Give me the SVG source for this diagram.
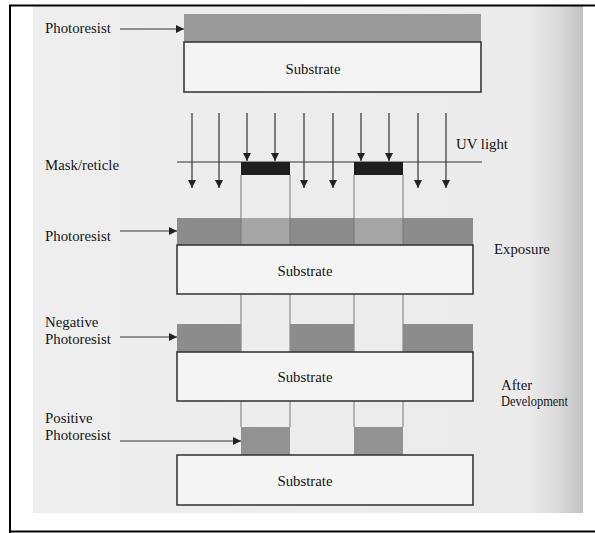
<svg xmlns="http://www.w3.org/2000/svg" width="595" height="533" viewBox="0 0 595 533">
<defs>
<linearGradient id="page" x1="0" y1="0" x2="1" y2="0">
<stop offset="0" stop-color="#eeeeee"/>
<stop offset="0.9" stop-color="#ebebeb"/>
<stop offset="0.95" stop-color="#dcdcdc"/>
<stop offset="1" stop-color="#c2c2c2"/>
</linearGradient>
<marker id="ah" viewBox="0 0 10 10" refX="10" refY="5" markerWidth="8" markerHeight="8" markerUnits="userSpaceOnUse" orient="auto">
<path d="M0,0 L10,5 L0,10 Z" fill="#222"/>
</marker>
<style>
.t{font-family:"Liberation Serif","Times New Roman",serif;font-size:14.8px;fill:#151515}
.ln{stroke:#333;stroke-width:1.2;fill:none}
.ar{stroke:#333;stroke-width:1.2;fill:none;marker-end:url(#ah)}
.sub{fill:#f4f4f4;stroke:#3a3a3a;stroke-width:1.6}
.dk{fill:#8c8c8c}
.lt{fill:#a5a5a5}
.gd{stroke:#777;stroke-width:1;fill:none}
.mask{fill:#1e1e1e}
</style>
</defs>
<rect x="0" y="0" width="595" height="533" fill="#ffffff"/>
<rect x="33" y="6" width="550" height="507" fill="url(#page)"/>
<g id="frame">
<line x1="9" y1="5.5" x2="595" y2="5.5" stroke="#000" stroke-width="2"/>
<line x1="10" y1="5" x2="10" y2="533" stroke="#000" stroke-width="2"/>
<line x1="9" y1="531.5" x2="595" y2="531.5" stroke="#000" stroke-width="2"/>
</g>

<g id="guides">
<line class="gd" x1="241" y1="175" x2="241" y2="427"/>
<line class="gd" x1="290" y1="175" x2="290" y2="427"/>
<line class="gd" x1="354" y1="175" x2="354" y2="427"/>
<line class="gd" x1="403" y1="175" x2="403" y2="427"/>
</g>

<g id="step1">
<rect x="184" y="14" width="297" height="28" fill="#9a9a9a"/>
<rect class="sub" x="184" y="42" width="297" height="50"/>
<text class="t" x="313" y="74" text-anchor="middle">Substrate</text>
</g>

<g id="mask">
<line class="ln" x1="177" y1="162" x2="482" y2="162"/>
<rect class="mask" x="241" y="162" width="49" height="13"/>
<rect class="mask" x="354" y="162" width="49" height="13"/>
</g>

<g id="exposure">
<rect class="dk" x="177" y="218" width="64" height="27"/>
<rect class="lt" x="241" y="218" width="49" height="27"/>
<rect class="dk" x="290" y="218" width="64" height="27"/>
<rect class="lt" x="354" y="218" width="49" height="27"/>
<rect class="dk" x="403" y="218" width="70" height="27"/>
<line class="gd" x1="241" y1="218" x2="241" y2="245"/>
<line class="gd" x1="290" y1="218" x2="290" y2="245"/>
<line class="gd" x1="354" y1="218" x2="354" y2="245"/>
<line class="gd" x1="403" y1="218" x2="403" y2="245"/>
<rect class="sub" x="177" y="245" width="296" height="49"/>
<text class="t" x="305" y="276" text-anchor="middle">Substrate</text>
</g>

<g id="negative">
<rect class="dk" x="177" y="324" width="64" height="28"/>
<rect class="dk" x="290" y="324" width="64" height="28"/>
<rect class="dk" x="403" y="324" width="70" height="28"/>
<rect class="sub" x="177" y="352" width="296" height="49"/>
<text class="t" x="305" y="382" text-anchor="middle">Substrate</text>
</g>

<g id="positive">
<rect fill="#929292" x="241" y="427" width="49" height="28"/>
<rect fill="#929292" x="354" y="427" width="49" height="28"/>
<rect class="sub" x="177" y="455" width="296" height="50"/>
<text class="t" x="305" y="486" text-anchor="middle">Substrate</text>
</g>

<g id="labels">
<text class="t" x="45" y="33">Photoresist</text>
<text class="t" x="45" y="170">Mask/reticle</text>
<text class="t" x="456" y="149">UV light</text>
<text class="t" x="45" y="241">Photoresist</text>
<text class="t" x="494" y="254">Exposure</text>
<text class="t" x="45" y="327">Negative</text>
<text class="t" x="45" y="344">Photoresist</text>
<text class="t" x="45" y="423">Positive</text>
<text class="t" x="45" y="440">Photoresist</text>
<text class="t" x="501" y="390">After</text>
<text class="t" x="501" y="406" textLength="67" lengthAdjust="spacingAndGlyphs">Development</text>
</g>

<g id="connectors">
<line class="ar" x1="120" y1="29" x2="184" y2="29"/>
<line class="ar" x1="120" y1="231" x2="177" y2="231"/>
<line class="ar" x1="120" y1="337" x2="177" y2="337"/>
<line class="ar" x1="120" y1="441" x2="241" y2="441"/>
<line class="ar" x1="192" y1="113" x2="192" y2="188"/>
<line class="ar" x1="219" y1="113" x2="219" y2="188"/>
<line class="ar" x1="247" y1="113" x2="247" y2="161"/>
<line class="ar" x1="275" y1="113" x2="275" y2="161"/>
<line class="ar" x1="304" y1="113" x2="304" y2="188"/>
<line class="ar" x1="333" y1="113" x2="333" y2="188"/>
<line class="ar" x1="361" y1="113" x2="361" y2="161"/>
<line class="ar" x1="389" y1="113" x2="389" y2="161"/>
<line class="ar" x1="418" y1="113" x2="418" y2="188"/>
<line class="ar" x1="446" y1="113" x2="446" y2="188"/>
</g>
</svg>
